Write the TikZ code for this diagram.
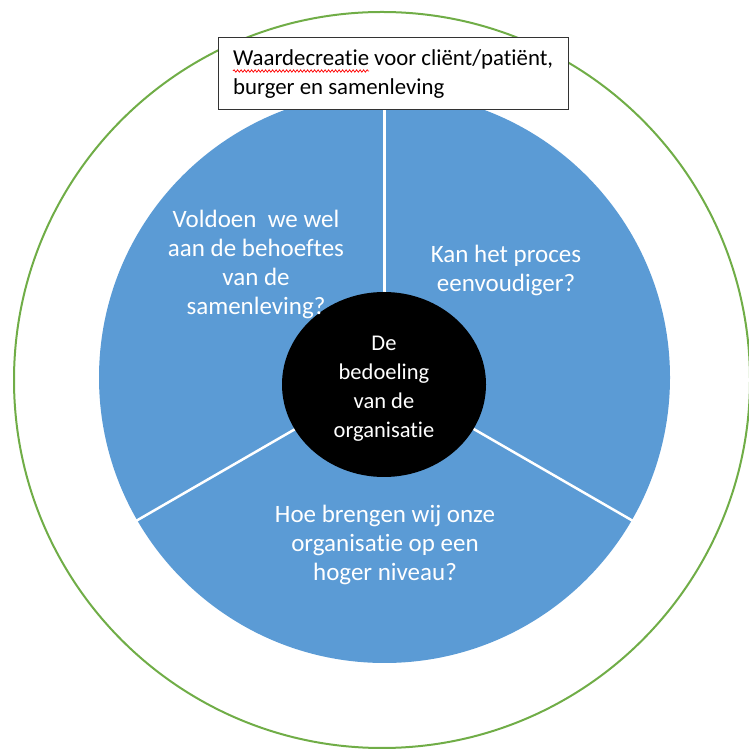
\documentclass[tikz,border=0pt]{standalone}
\usepackage{fontspec}
\setmainfont[Ligatures={NoCommon}]{Carlito}
\usetikzlibrary{shapes.geometric,decorations.pathmorphing}
\definecolor{ringgreen}{RGB}{112,173,71}
\definecolor{pieblue}{RGB}{91,155,213}
\tikzset{
  sectortext/.style={text=white,align=center,font=\fontsize{25}{29}\selectfont,inner sep=0pt},
  spoke/.style={draw=white,line width=2.5pt},
  boxtext/.style={text=black,align=left,font=\fontsize{22.8}{29.5}\selectfont,inner sep=0pt,anchor=north west}
}
\begin{document}
\begin{tikzpicture}[x=1pt,y=1pt]
\useasboundingbox (0,0) rectangle (749,749);
% outer green ring
\node[circle,draw=ringgreen,line width=2pt,minimum size=736pt,inner sep=0pt] (ring) at (382,369) {};
% blue disk
\node[circle,fill=pieblue,minimum size=571pt,inner sep=0pt] (disk) at (384.5,371.5) {};
% spokes
\coordinate (c) at (384.5,371.5);
\draw[spoke] (c) -- ++(90:285.5);
\draw[spoke] (c) -- ++(210:287);
\draw[spoke] (c) -- ++(330:287);
% centre ellipse
\node[ellipse,fill=black,minimum width=204pt,minimum height=185pt,inner sep=0pt] (core) at (384,364.5) {};
\node[text=white,align=center,font=\fontsize{22.5}{29}\selectfont,inner sep=0pt] (coretext) at (384,360) {De\\bedoeling\\van de\\organisatie};
% sector texts
\node[sectortext] (tl) at (256,485) {Voldoen\ \ we wel\\aan de behoeftes\\van de\\samenleving?};
\node[sectortext] (tr) at (506,479) {Kan het proces\\eenvoudiger?};
\node[sectortext] (bt) at (385,204) {Hoe brengen wij onze\\organisatie op een\\hoger niveau?};
% top box
\node[draw=black!80,fill=white,line width=0.8pt,minimum width=350pt,minimum height=72pt,inner sep=0pt] (box) at (393,676) {};
\node[boxtext] (boxtext) at (233,700) {Waardecreatie voor cliënt/patiënt,\\burger en samenleving};
\draw[red,line width=0.7pt,decorate,decoration={snake,amplitude=1.2pt,segment length=3.5pt}] (233,678) -- (369,678);
\end{tikzpicture}
\end{document}
